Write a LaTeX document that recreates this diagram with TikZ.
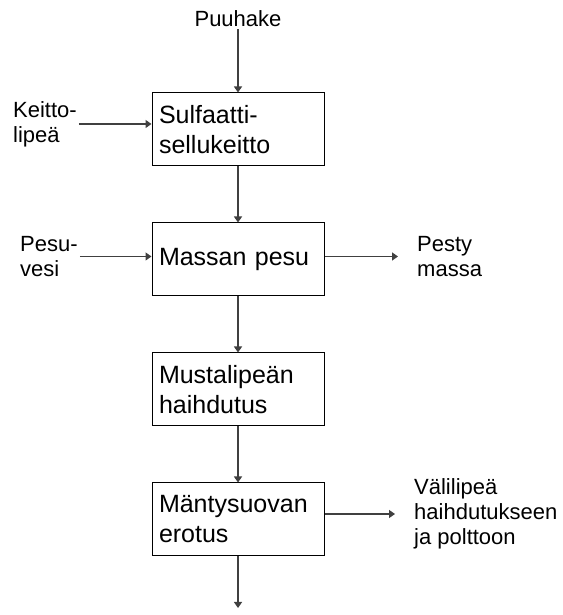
\documentclass[tikz,border=0pt]{standalone}
\usepackage{fontspec}
\setmainfont{Liberation Sans}
\usepackage{xcolor}
\usepackage{tikz}
\usetikzlibrary{arrows.meta}
\definecolor{linegray}{RGB}{64,64,64}

\begin{document}
\begin{tikzpicture}[>={Triangle[length=6pt,width=8pt]}, x=1pt, y=1pt,
    stage/.style={draw, line width=1pt, minimum width=172pt, minimum height=73pt, text width=158pt, inner sep=7pt, align=left, font=\fontsize{25}{30}\selectfont},
    ioname/.style={align=left, inner sep=2pt, font=\fontsize{22}{25}\selectfont},
    flow/.style={->, line width=1.3pt, draw=linegray}]
    \useasboundingbox (0, 0) rectangle (562, 615);
    \node [stage] (sulfaatti) at (238, 485.5) {Sulfaatti-\\sellukeitto};
    \node [stage] (pesu) at (238, 355.5) {Massan pesu};
    \node [stage] (haihdutus) at (238, 225.5) {Mustalipeän\\haihdutus};
    \node [stage] (erotus) at (238, 95.5) {Mäntysuovan\\erotus};
    \node [ioname, anchor=base] (puuhake) at (238, 588) {Puuhake};
    \node [ioname, anchor=west] (keittolipea) at (11, 491) {Keitto-\\lipeä};
    \node [ioname, anchor=west] (pesuvesi) at (18, 358.5) {Pesu-\\vesi};
    \node [ioname, anchor=west] (pesty) at (415, 358.5) {Pesty\\massa};
    \node [ioname, anchor=west] (valilipea) at (412, 101) {Välilipeä\\haihdutukseen\\ja polttoon};
    \coordinate (ulos) at (238, 7);
    \draw [flow] (puuhake.south) -- (sulfaatti.north);
    \draw [flow] (keittolipea.east) -- (keittolipea.east -| sulfaatti.west);
    \draw [flow] (sulfaatti) -- (pesu);
    \draw [flow] (pesuvesi.east) -- (pesuvesi.east -| pesu.west);
    \draw [flow] (pesu.east |- pesty.west) -- ([xshift=-17pt]pesty.west);
    \draw [flow] (pesu) -- (haihdutus);
    \draw [flow] (haihdutus) -- (erotus);
    \draw [flow] (erotus.east |- valilipea.west) -- ([xshift=-17pt]valilipea.west);
    \draw [flow] (erotus) -- (ulos);
\end{tikzpicture}
\end{document}
